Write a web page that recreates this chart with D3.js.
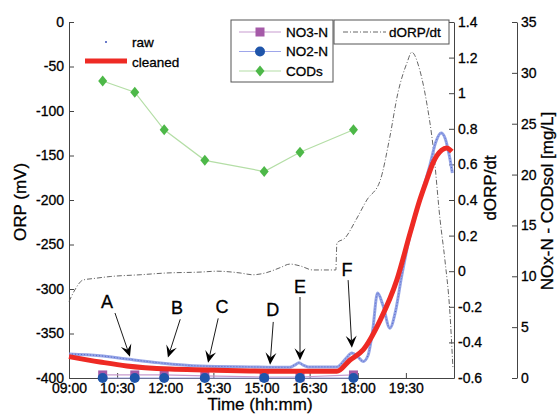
<!DOCTYPE html>
<html>
<head>
<meta charset="utf-8">
<script src="https://cdn.jsdelivr.net/npm/d3@7/dist/d3.min.js"></script>
<style>
    body { margin: 0; background: #fff; }
    svg { font-family: "Liberation Sans", Arial, sans-serif; }
    svg text { stroke: #000; stroke-width: 0.3px; }
</style>
</head>
<body>
<svg id="chart" width="558" height="416"></svg>
<script>
// ---- values ----
const timeTicks = ["09:00", "10:30", "12:00", "13:30", "15:00", "16:30", "18:00", "19:30"];
const orpTicks = [0, -50, -100, -150, -200, -250, -300, -350, -400];
const dorpTicks = [-0.6, -0.4, -0.2, 0, 0.2, 0.4, 0.6, 0.8, 1, 1.2, 1.4];
const noxTicks = [0, 5, 10, 15, 20, 25, 30, 35];

// grab samples (right axis, mg/L)
const sampleTimes = ["10:03", "11:03", "11:58", "13:14", "15:05", "16:12", "17:52"];
const no3n = [0.3, 0.3, 0.3, 0.2, 0.1, 0.1, 0.3];
const no2n = [0, 0, 0, 0, 0, 0, 0];
const cods = [29.2, 28.1, 24.4, 21.4, 20.3, 22.2, 24.4];

// online ORP signal (mV)
const orpRaw = [
    ["09:00", -373], ["09:58", -375], ["10:48", -378.7], ["11:50", -383], ["13:05", -386.5],
    ["14:38", -387.5], ["15:53", -388], ["16:02", -385.5], ["16:10", -383], ["16:18", -385.5],
    ["16:27", -387.5], ["17:21", -387.5], ["17:38", -378], ["17:49", -372], ["18:00", -376],
    ["18:10", -381.5], ["18:19", -375], ["18:28", -346], ["18:37", -304.5], ["18:47", -318],
    ["19:00", -344], ["19:11", -324], ["19:22", -286], ["19:38", -239], ["19:56", -200],
    ["20:15", -160.7], ["20:26", -134.8], ["20:36", -124.7], ["20:43", -130], ["20:51", -149.4],
    ["20:57", -169.7]
];
const orpCleaned = [
    ["09:00", -376], ["09:58", -382], ["10:48", -386.5], ["12:09", -390], ["13:14", -391],
    ["14:38", -392], ["15:59", -392.5], ["17:21", -392.5], ["17:45", -380], ["18:10", -368.5],
    ["18:42", -335], ["19:13", -290], ["19:38", -237], ["19:56", -200], ["20:09", -177.5],
    ["20:21", -158], ["20:37", -144], ["20:46", -141.5], ["20:56", -145.5]
];
const dOrpDt = [
    ["09:00", -0.17], ["09:11", -0.105], ["09:26", -0.05], ["09:49", -0.04], ["10:17", -0.03],
    ["11:13", -0.02], ["12:03", -0.01], ["13:05", -0.005], ["13:37", 0.0], ["14:20", -0.01],
    ["14:44", -0.02], ["15:07", -0.01], ["15:35", 0.02], ["15:53", 0.04], ["16:12", 0.03],
    ["16:36", 0.007], ["17:19", 0.007], ["17:21", 0.158], ["17:36", 0.186], ["17:57", 0.29],
    ["18:17", 0.4], ["18:42", 0.51], ["19:00", 0.754], ["19:15", 1.0], ["19:32", 1.17],
    ["19:41", 1.23], ["19:56", 1.13], ["20:09", 0.945], ["20:21", 0.698], ["20:34", 0.288],
    ["20:43", 0.063], ["20:52", -0.218], ["20:58", -0.544]
];

// labelled events A-F (time, ORP) for the letter, arrow tail and arrow tip
const events = [
    { label: "A", text: ["10:11", -315], from: ["10:26", -327], to: ["10:54", -376] },
    { label: "B", text: ["12:22", -321], from: ["12:28", -334], to: ["12:05", -377] },
    { label: "C", text: ["13:46", -320], from: ["13:39", -333], to: ["13:20", -383] },
    { label: "D", text: ["15:21", -324], from: ["15:22", -337], to: ["15:16", -385] },
    { label: "E", text: ["16:12", -298], from: ["16:12", -309], to: ["16:12", -380] },
    { label: "F", text: ["17:40", -279], from: ["17:42", -290], to: ["17:49", -366] }
];

// minutes after 09:00
const toMin = s => { const [h, m] = s.split(":").map(Number); return (h - 9) * 60 + m; };

class OrpChart {
    constructor(_config) {
        this.config = { parentElement: _config.parentElement };
    }

    initVis() {
        let vis = this;

        const left = 69, right = 454, top = 22, bottom = 378;
        const noxX = 517;
        const svg = d3.select(vis.config.parentElement);

        // scales
        const x = d3.scaleLinear().domain([0, 720]).range([left, right]);
        const yOrp = d3.scaleLinear().domain([-400, 0]).range([bottom, top]);
        const yD = d3.scaleLinear().domain([-0.6, 1.4]).range([bottom, top]);
        const yN = d3.scaleLinear().domain([0, 35]).range([bottom, top]);

        const fmt = d => String(+(+d).toFixed(1));

        // axes, ticks pointing inwards like the matlab figure
        const styleAxis = g => {
            g.select(".domain").attr("stroke", "#444");
            g.selectAll(".tick line").attr("stroke", "#444");
            g.selectAll(".tick text").attr("fill", "#000").style("font-size", "14px")
                .style("font-family", "'Liberation Sans', Arial, sans-serif");
        };

        svg.append("g")
            .attr("transform", `translate(${left},0)`)
            .call(d3.axisLeft(yOrp).tickValues(orpTicks).tickFormat(fmt)
                .tickSizeInner(-5).tickSizeOuter(0).tickPadding(5))
            .call(styleAxis);

        svg.append("g")
            .attr("transform", `translate(0,${bottom})`)
            .call(d3.axisBottom(x).tickValues(timeTicks.map(toMin)).tickFormat((d, i) => timeTicks[i])
                .tickSizeInner(-5).tickSizeOuter(0).tickPadding(5))
            .call(styleAxis);

        svg.append("g")
            .attr("transform", `translate(${right},0)`)
            .call(d3.axisRight(yD).tickValues(dorpTicks).tickFormat(fmt)
                .tickSizeInner(-5).tickSizeOuter(0).tickPadding(4))
            .call(styleAxis);

        svg.append("g")
            .attr("transform", `translate(${noxX},0)`)
            .call(d3.axisRight(yN).tickValues(noxTicks).tickFormat(fmt)
                .tickSizeInner(-5).tickSizeOuter(0).tickPadding(4))
            .call(styleAxis);

        // axis titles
        const title = (txt, tx, ty, rot) => svg.append("text")
            .attr("transform", `translate(${tx},${ty}) rotate(${rot})`)
            .attr("text-anchor", "middle")
            .style("font-size", "17px")
            .text(txt);
        title("ORP (mV)", 26, 202, -90);
        title("Time (hh:mm)", 260, 410, 0);
        title("dORP/dt", 496, 188, -90);
        title("NOx-N - CODsol [mg/L]", 553, 201, -90);

        // dORP/dt
        const lineD = d3.line().x(d => x(toMin(d[0]))).y(d => yD(d[1])).curve(d3.curveMonotoneX);
        svg.append("path")
            .datum(dOrpDt)
            .attr("d", lineD)
            .attr("fill", "none")
            .attr("stroke", "#555")
            .attr("stroke-width", 0.9)
            .attr("stroke-dasharray", "5,2,1,2");

        // grab samples
        const samples = sampleTimes.map((t, i) => ({ t: toMin(t), no3: no3n[i], no2: no2n[i], cod: cods[i] }));
        const diamond = "M0,-5.5L4.5,0L0,5.5L-4.5,0Z";

        svg.append("path")
            .datum(samples)
            .attr("d", d3.line().x(d => x(d.t)).y(d => yN(d.cod)))
            .attr("fill", "none").attr("stroke", "#b4dea6").attr("stroke-width", 1.2);
        svg.selectAll(".cod").data(samples).join("path")
            .attr("class", "cod")
            .attr("transform", d => `translate(${x(d.t)},${yN(d.cod)})`)
            .attr("d", diamond)
            .attr("fill", "#4db848");

        svg.append("path")
            .datum(samples)
            .attr("d", d3.line().x(d => x(d.t)).y(d => yN(d.no3)))
            .attr("fill", "none").attr("stroke", "#c79ccf").attr("stroke-width", 1.2);
        svg.selectAll(".no3").data(samples).join("rect")
            .attr("class", "no3")
            .attr("x", d => x(d.t) - 4.5).attr("y", d => yN(d.no3) - 4.5)
            .attr("width", 9).attr("height", 9)
            .attr("fill", "#a55aa8");

        // ORP raw and cleaned
        const lineO = d3.line().x(d => x(toMin(d[0]))).y(d => yOrp(d[1])).curve(d3.curveMonotoneX);
        svg.append("path")
            .datum(orpRaw)
            .attr("d", lineO)
            .attr("fill", "none").attr("stroke", "#95a4e6").attr("stroke-width", 3);
        svg.append("path")
            .datum(orpRaw)
            .attr("d", lineO)
            .attr("fill", "none").attr("stroke", "#5468cc").attr("stroke-width", 1)
            .attr("stroke-dasharray", "1,2");
        svg.append("path")
            .datum(orpCleaned)
            .attr("d", lineO)
            .attr("fill", "none").attr("stroke", "#ee2a24").attr("stroke-width", 5)
            .attr("stroke-linejoin", "round");

        // NO2-N on top of the rest
        svg.append("path")
            .datum(samples)
            .attr("d", d3.line().x(d => x(d.t)).y(d => yN(d.no2)))
            .attr("fill", "none").attr("stroke", "#9ea6ea").attr("stroke-width", 1.2);
        svg.selectAll(".no2").data(samples).join("circle")
            .attr("class", "no2")
            .attr("cx", d => x(d.t)).attr("cy", d => yN(d.no2))
            .attr("r", 5)
            .attr("fill", "#1f55aa");

        // event arrows
        const arrow = (x0, y0, x1, y1) => {
            const a = Math.atan2(y1 - y0, x1 - x0);
            const ux = Math.cos(a), uy = Math.sin(a), L = 12, w = 5.5;
            const bx = x1 - L * ux, by = y1 - L * uy;
            const nx = x1 - 0.6 * L * ux, ny = y1 - 0.6 * L * uy;
            return {
                line: `M${x0},${y0}L${nx},${ny}`,
                head: `M${x1},${y1}L${bx - w * uy},${by + w * ux}L${nx},${ny}L${bx + w * uy},${by - w * ux}Z`
            };
        };
        events.forEach(e => {
            const ar = arrow(x(toMin(e.from[0])), yOrp(e.from[1]), x(toMin(e.to[0])), yOrp(e.to[1]));
            svg.append("path").attr("d", ar.line).attr("stroke", "#000").attr("stroke-width", 0.9).attr("fill", "none");
            svg.append("path").attr("d", ar.head).attr("fill", "#000");
            svg.append("text")
                .attr("x", x(toMin(e.text[0]))).attr("y", yOrp(e.text[1]))
                .attr("text-anchor", "middle").attr("dominant-baseline", "central")
                .style("font-size", "18px")
                .text(e.label);
        });

        // legend: raw / cleaned (no box)
        svg.append("circle").attr("cx", 106).attr("cy", 42).attr("r", 1).attr("fill", "#3a4fb8");
        svg.append("line").attr("x1", 85).attr("x2", 127).attr("y1", 61).attr("y2", 61)
            .attr("stroke", "#ee2a24").attr("stroke-width", 5);
        svg.append("text").attr("x", 132).attr("y", 42).attr("dominant-baseline", "central")
            .style("font-size", "13.5px").text("raw");
        svg.append("text").attr("x", 132).attr("y", 62).attr("dominant-baseline", "central")
            .style("font-size", "13.5px").text("cleaned");

        // legend: grab samples
        const lg = svg.append("g");
        lg.append("rect").attr("x", 231).attr("y", 20).attr("width", 102).attr("height", 62)
            .attr("fill", "#fff").attr("stroke", "#555");
        const items = [
            { name: "NO3-N", line: "#c79ccf", kind: "square", color: "#a55aa8" },
            { name: "NO2-N", line: "#9ea6ea", kind: "circle", color: "#1f55aa" },
            { name: "CODs", line: "#b4dea6", kind: "diamond", color: "#4db848" }
        ];
        items.forEach((it, i) => {
            const yy = 32 + i * 19.5;
            lg.append("line").attr("x1", 239).attr("x2", 281).attr("y1", yy).attr("y2", yy)
                .attr("stroke", it.line).attr("stroke-width", 1.2);
            if (it.kind === "square") {
                lg.append("rect").attr("x", 255.5).attr("y", yy - 4.5).attr("width", 9).attr("height", 9).attr("fill", it.color);
            } else if (it.kind === "circle") {
                lg.append("circle").attr("cx", 260).attr("cy", yy).attr("r", 5).attr("fill", it.color);
            } else {
                lg.append("path").attr("transform", `translate(260,${yy})`).attr("d", diamond).attr("fill", it.color);
            }
            lg.append("text").attr("x", 286).attr("y", yy).attr("dominant-baseline", "central")
                .style("font-size", "13.5px").text(it.name);
        });

        // legend: dORP/dt
        svg.append("rect").attr("x", 334).attr("y", 20).attr("width", 115).attr("height", 24)
            .attr("fill", "#fff").attr("stroke", "#555");
        svg.append("line").attr("x1", 343).attr("x2", 386).attr("y1", 32).attr("y2", 32)
            .attr("stroke", "#555").attr("stroke-width", 0.9).attr("stroke-dasharray", "5,2,1,2");
        svg.append("text").attr("x", 389).attr("y", 32).attr("dominant-baseline", "central")
            .style("font-size", "13.5px").text("dORP/dt");
    }
}

const chart = new OrpChart({ parentElement: "#chart" });
chart.initVis();
</script>
</body>
</html>
